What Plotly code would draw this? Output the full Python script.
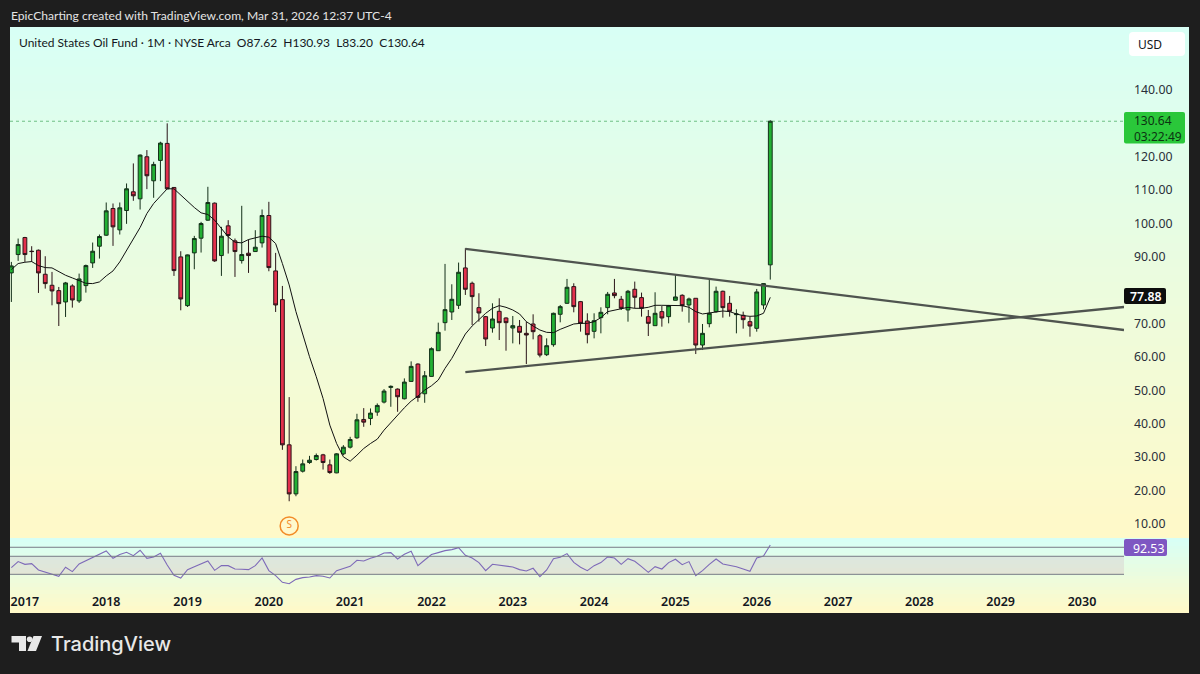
import plotly.graph_objects as go

W, H = 1200, 674

# monthly candles, index 0 = Nov 2016
opens = [85.2,90.7,95.8,91.7,92,84.8,81.5,79.9,76.5,81.3,76.8,81.4,88.2,93.2,96.5,104.5,98.1,103.9,109.5,107.4,
         120,112.8,118.9,124,110.8,90,75.4,91.2,95.6,101,106.1,90.4,99.3,94.8,88.9,91.1,91.6,94.2,102.4,85.8,
         77.2,33.7,19,25.8,28.4,29.3,30.7,27.7,25.3,31,33,35.8,41.3,41.6,43.5,46.5,50.9,50.4,47.5,52.7,
         57.9,49,54.2,61.9,70.3,73.5,75.5,86.7,82.1,74.8,72.1,68.7,73.7,71.7,68.7,69.2,67.1,69.9,66.4,60.7,
         63.7,72.8,76.1,81.1,76.6,70.8,67.7,71.8,74.8,79.2,77.3,74.1,80.3,77.8,72.1,69.4,73.6,72.1,77,78.5,
         75.6,77.6,63.6,70,73.6,79.7,76.1,72.7,72.5,70.6,68.6,75.6,87.62]
highs = [88.5,95.5,96,93.2,92.2,90.2,85.5,81,82.5,81.8,85,87.7,94.3,96.7,106.3,106,106.3,112,118,120.7,
         122,118.5,124.5,130,110.8,91.7,90.7,96.3,100.5,111,106.3,99,101,95.5,105.3,95.2,98,104.2,106.5,91.2,
         81.3,48,27.3,29.3,30.4,31.1,31,29.3,31.2,33.6,36.1,43,44.7,44.6,46.1,50.4,51.5,50.6,53.6,58.7,
         58.1,55.8,62.9,70.3,87.9,81.8,88.3,92.6,82.6,79.1,72.3,76.1,77.6,71.9,72.3,71.1,70.6,72.8,66.9,65.6,
         73.3,75.6,83.4,82.1,76.8,73.1,73.1,74.9,79.5,83.4,78.3,80.1,82.6,79.3,74.1,79.4,75.3,75.6,84.6,78.8,
         77.8,77.6,69.9,83.6,81.1,79.9,78.3,74.3,73.6,72.1,80.4,82.1,130.93]
lows = [76.5,88.8,88.5,88.5,79.2,80.5,75.5,69.3,72,74.8,76.2,79.3,86.7,89.5,96.3,93.3,96.7,99.9,106.8,104.2,
        110.3,107.7,112.7,110.3,84.3,74,75,86.3,91.3,100.8,88.5,84.3,91,84,88,85.2,91.5,92.8,85.7,73.5,
        32.2,16.8,18.3,25.4,28,29,26.3,25,25.2,30.6,32.6,35.5,39.1,39.6,42.4,46.1,45.1,43.6,47.3,52.6,
        46.6,46.3,54.1,61.9,67.9,71.1,74.4,78.6,69.6,70.6,63.3,67.3,65.1,61.9,64.1,63.8,57.9,65.3,59.9,60.3,
        63.1,70.4,75.9,73.4,67.6,64.1,65.6,67.1,72.8,77.6,74.1,70.6,74.6,72.1,66.3,69.4,69.1,70.1,76.9,73.6,
        70.3,60.9,62.1,68.9,73.3,71.8,72.1,67.1,68.5,66.1,67.6,74.3,83.2]
closes = [87.3,93.7,90.7,91.6,85.2,82,79.8,76,82.2,77.1,83.4,87.4,91.7,96.1,103.8,99,104.7,110.4,108.3,120.5,
          114.3,117.7,124.1,110.4,85.9,77.4,90.6,95.5,100,106.3,88.8,96.2,96.4,91.6,90.7,90.4,92.9,102.4,86.8,75.6,
          33.7,19,25.7,28,29.1,30.5,28.4,25.4,31,33,35.3,41.2,40.5,43.2,45.5,49.8,51.2,48.1,52.5,57.2,
          47.9,54.4,62.5,67.4,74.2,77.3,85.4,80.3,78.1,73.2,65.4,71.4,70.3,70.3,69.4,67.4,66.6,67.6,60.6,63.4,
          73.1,75.1,80.9,75.1,70.1,66.7,70.9,73.4,78.8,78.4,74.6,79.7,77.9,74.6,70.1,73.1,71.7,75.4,78,75.4,
          77.4,63.6,67.1,73.1,79.7,74.8,73.7,72.9,71.2,69.3,79.5,82,130.64]

# black moving average on the candles
ma_line = [86.2,88,88.4,88.6,87.4,86.8,86.7,85.6,84.5,83.7,83,82.1,82,82.5,84.3,85.8,88.5,92,95.5,98.8,
           103,106,108.2,110.4,110.4,108.5,106.7,104.8,103.2,102.7,101,98.5,96,94.4,94.2,95.2,95.7,96.2,95.9,94,
           88,81.6,73.6,66.6,60.1,54.1,47.6,39.6,34.1,30.1,28.8,30.6,32.6,34.1,35.4,38.1,40.4,42.6,44.8,46.8,
           48.3,50.1,51.4,53.1,56.6,59.6,63.3,66.9,69.3,71.3,73.1,74.6,75.4,74.9,74.1,72.9,70.6,69.3,68.1,67.4,
           67.3,68.3,69.1,69.9,70.1,70.1,70.6,71.8,73.6,74.1,74.6,74.9,74.6,74.6,74.9,75.5,75.5,75.5,75.5,75.4,
           74.9,73.6,72.9,73.1,73.5,73.8,73.6,72.9,72.4,72.2,72.3,73.1,77.88]

# lower pane oscillator
rsi = [67.4,74.1,71.1,71.9,64.8,62.2,60,57.8,67.8,63,71.5,75.2,79.3,82.2,85.9,77.8,81.9,84.4,80.7,86.7,
       77.8,79.3,83.3,70.4,58.9,55.9,65.2,68.5,71.9,74.8,64.4,69.6,69.6,65.9,65.6,65.2,69.6,78.1,64.1,58.5,
       51.1,49.6,54.4,56.3,57,58.5,57.8,55.9,64.1,66.3,68.9,75.6,74.8,77.8,80,83.7,84.1,77,82.2,85.6,
       69.6,75.9,81.9,84.1,86.3,87.4,89.6,81.1,78.1,73,64.1,71.1,70,69.6,68.1,65.2,63.7,66.7,57.4,64.8,
       77.4,78.9,83,73.3,67.8,64.1,69.6,73,79.3,78.1,71.1,77.4,74.4,68.5,62.2,68.5,65.9,73,76.7,70.7,
       74.1,58.5,64.1,71.1,77,71.5,70.4,68.5,65.9,63.3,78.1,80.4,92.53]
rsi_levels = [90, 80, 60]

# trendlines: [start, end] in candle index / price
trend_x = [67, 164.2]
upper_trend = [92.4, 68.1]
lower_trend = [55.5, 75]

year_labels = ["2017","2018","2019","2020","2021","2022","2023","2024","2025","2026","2027","2028","2029","2030"]
year_idx = [2 + 12 * n for n in range(len(year_labels))]
price_ticks = [10,20,30,40,50,60,70,90,100,110,120,140]
last_close = 130.64

idx = list(range(len(closes)))


def px(x):
    return x / W


def py(y):
    return 1 - y / H


def gradient(top, bottom, steps=64):
    # background bands, pixel aligned so no seams
    out = []
    c0, c1 = (216, 255, 245), (255, 249, 200)
    for n in range(steps):
        t = n / (steps - 1)
        col = tuple(round(a + (b - a) * t) for a, b in zip(c0, c1))
        y0 = round(top + (bottom - top) * n / steps)
        y1 = round(top + (bottom - top) * (n + 1) / steps)
        out.append(dict(type="rect", xref="paper", yref="paper", layer="below",
                        x0=px(10), x1=px(1189), y0=py(y0), y1=py(y1),
                        fillcolor="rgb(%d,%d,%d)" % col, line_width=0))
    return out


def round_box(x0, y0, x1, y1, color, r=3):
    path = (f"M {px(x0+r)} {py(y0)} L {px(x1-r)} {py(y0)} Q {px(x1)} {py(y0)} {px(x1)} {py(y0+r)} "
            f"L {px(x1)} {py(y1-r)} Q {px(x1)} {py(y1)} {px(x1-r)} {py(y1)} L {px(x0+r)} {py(y1)} "
            f"Q {px(x0)} {py(y1)} {px(x0)} {py(y1-r)} L {px(x0)} {py(y0+r)} Q {px(x0)} {py(y0)} {px(x0+r)} {py(y0)} Z")
    return dict(type="path", xref="paper", yref="paper", path=path, fillcolor=color, line_width=0)


def label(x, y, text, size=12, color="#131722", anchor="left", weight=400, family="Noto Sans"):
    return dict(x=px(x), y=py(y), xref="paper", yref="paper", text=text, showarrow=False,
                xanchor=anchor, yanchor="middle", align="left", borderpad=0,
                font=dict(family=family, size=size, color=color, weight=weight))


fig = go.Figure()

fig.add_trace(go.Scatter(x=trend_x, y=upper_trend, mode="lines", line=dict(color="#4f544f", width=2.3),
                         xaxis="x", yaxis="y", hoverinfo="skip"))
fig.add_trace(go.Scatter(x=trend_x, y=lower_trend, mode="lines", line=dict(color="#4f544f", width=2.3),
                         xaxis="x", yaxis="y", hoverinfo="skip"))
fig.add_trace(go.Candlestick(x=idx, open=opens, high=highs, low=lows, close=closes, whiskerwidth=0,
                             increasing=dict(line=dict(color="#14301a", width=1), fillcolor="#22b033"),
                             decreasing=dict(line=dict(color="#2a1418", width=1), fillcolor="#e2304c"),
                             xaxis="x", yaxis="y"))
fig.add_trace(go.Scatter(x=idx, y=ma_line, mode="lines", line=dict(color="#111111", width=1),
                         xaxis="x", yaxis="y", hoverinfo="skip"))
# dividend marker
fig.add_trace(go.Scatter(x=[41], y=[9.4], mode="markers+text", text=["S"], textposition="middle center",
                         textfont=dict(family="Noto Sans", size=10, color="#f28c28"),
                         marker=dict(size=18, color="rgba(255,249,205,1)", line=dict(color="#f28c28", width=1.5)),
                         xaxis="x", yaxis="y", hoverinfo="skip"))
fig.add_trace(go.Scatter(x=idx, y=rsi, mode="lines", line=dict(color="#7e6ab8", width=1.1),
                         xaxis="x2", yaxis="y2", hoverinfo="skip"))

shapes = gradient(27, 538) + gradient(538, 613, steps=20)
shapes.append(dict(type="rect", xref="x2 domain", yref="y2", x0=0, x1=1, y0=rsi_levels[2], y1=rsi_levels[1],
                   fillcolor="rgba(190,110,160,0.15)", line_width=0, layer="below"))
for lev in rsi_levels:
    shapes.append(dict(type="line", xref="x2 domain", yref="y2", x0=0, x1=1, y0=lev, y1=lev,
                       line=dict(color="#787b86", width=1)))
shapes.append(dict(type="line", xref="x domain", yref="y", x0=0, x1=1, y0=last_close, y1=last_close,
                   line=dict(color="#6fbf85", width=1, dash="dot"), layer="below"))

# price axis boxes
shapes.append(round_box(1129, 32, 1185, 56, "#ffffff", r=4))
shapes.append(round_box(1124, 112, 1185, 143.5, "#2ac73a", r=2))
shapes.append(round_box(1124, 288, 1166, 304, "#0d0d0d", r=2))
shapes.append(round_box(1124, 539, 1167, 556, "#7e57c2", r=2))

# TradingView logo
shapes.append(dict(type="path", xref="paper", yref="paper", fillcolor="#e8e8e8", line_width=0,
                   path=f"M {px(11.5)} {py(636)} L {px(26)} {py(636)} L {px(26)} {py(651)} L {px(19)} {py(651)} "
                        f"L {px(19)} {py(642.5)} L {px(11.5)} {py(642.5)} Z"))
shapes.append(dict(type="path", xref="paper", yref="paper", fillcolor="#e8e8e8", line_width=0,
                   path=f"M {px(33.5)} {py(636)} L {px(42)} {py(636)} L {px(36)} {py(651)} L {px(27.5)} {py(651)} Z"))
shapes.append(dict(type="circle", xref="paper", yref="paper", fillcolor="#e8e8e8", line_width=0,
                   x0=px(26.8), x1=px(32.4), y0=py(642), y1=py(636.4)))

annotations = [
    label(10, 15, "EpicCharting created with TradingView.com, Mar 31, 2026 12:37 UTC-4", size=12.1, color="#e4e4e4",
          family="Lato"),
    label(18, 42.5, "United States Oil Fund · 1M · NYSE Arca&nbsp;&nbsp;O87.62&nbsp;&nbsp;H130.93&nbsp;&nbsp;L83.20&nbsp;&nbsp;C130.64",
          size=12, family="Lato"),
    label(1137, 44, "USD", size=12),
    label(1133, 128, "130.64<br>03:22:49", size=12, color="#0c3312"),
    label(1129, 296, "77.88", size=12.3, color="#ffffff", weight=600),
    label(1132, 548, "92.53", size=12.3, color="#ffffff"),
    label(50, 644, "TradingView", size=20, color="#e8e8e8", weight=500, family="Inter"),
]

fig.update_layout(
    width=W, height=H, autosize=False,
    margin=dict(l=0, r=0, t=0, b=0),
    paper_bgcolor="#1e1e1e", plot_bgcolor="rgba(0,0,0,0)",
    showlegend=False, hovermode=False,
    boxgap=0.25, boxgroupgap=0.25,
    shapes=shapes, annotations=annotations,
    xaxis=dict(domain=[px(10), px(1124)], range=[-0.2, 164.2], anchor="y", showgrid=False, zeroline=False,
               showticklabels=False, ticks="", rangeslider=dict(visible=False)),
    xaxis2=dict(domain=[px(10), px(1124)], range=[-0.2, 164.2], anchor="y2", showgrid=False, zeroline=False,
                tickmode="array", tickvals=year_idx, ticktext=year_labels, ticks="", ticklabelstandoff=2,
                tickfont=dict(family="Noto Sans", size=12.5, color="#131722", weight=600)),
    yaxis=dict(domain=[py(538), py(27)], range=[5.79, 158.87], anchor="x", side="right", showgrid=False,
               zeroline=False, tickmode="array", tickvals=price_ticks,
               ticktext=["%.2f" % t for t in price_ticks], ticks="", ticklabelstandoff=9,
               tickfont=dict(family="Noto Sans", size=12.3, color="#2a2e39")),
    yaxis2=dict(domain=[py(590), py(538)], range=[42.6, 100.3], anchor="x2", side="right", showgrid=False,
                zeroline=False, showticklabels=False, ticks=""),
)

fig.write_html("out.html", config=dict(displayModeBar=False),
               post_script="document.body.style.margin='0';document.body.style.background='#1e1e1e';")
